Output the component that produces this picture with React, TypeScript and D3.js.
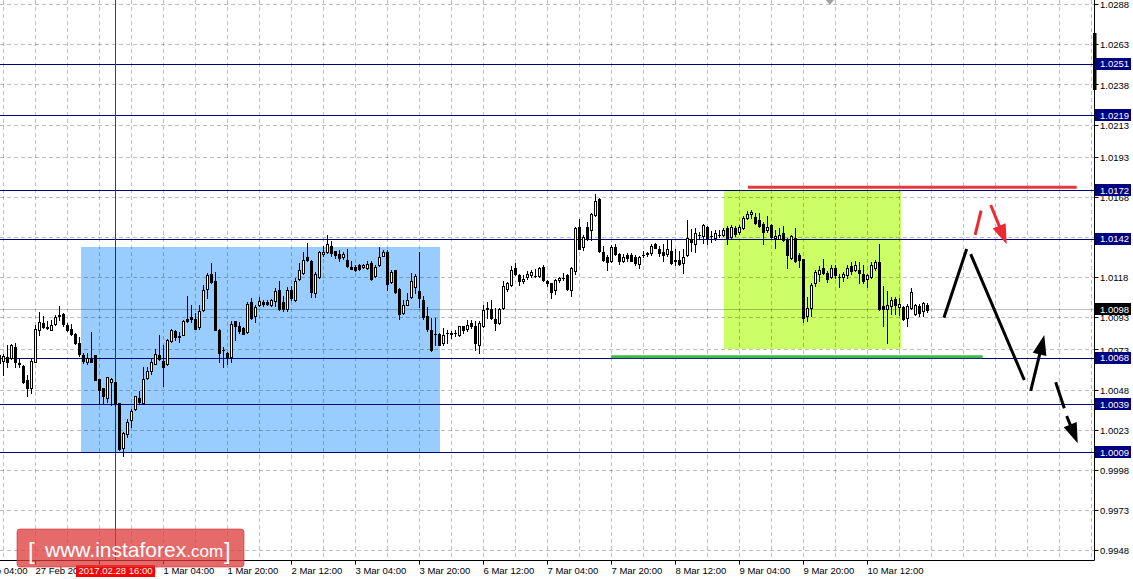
import * as d3 from 'd3'

// EURCHF H1, prices in pips above 1.0000 (bar 0 = 27 Feb 11:00)
const openPips = [
  64.5, 65.9, 68.6, 67.6, 74.3, 64.5, 63.0, 54.0, 49.3, 65.5,
  85.3, 89.5, 86.3, 85.3, 88.8, 94.0, 95.3, 88.0, 85.9, 82.6,
  77.0, 69.3, 64.9, 67.2, 69.3, 54.7, 49.3, 42.6, 53.0, 53.0,
  39.5, 11.8, 20.1, 29.0, 35.9, 43.0, 39.5, 55.5, 59.7, 63.8,
  69.3, 66.0, 63.8, 78.0, 84.3, 81.0, 82.2, 92.2, 93.0, 92.2,
  86.8, 97.8, 110.9, 120.0, 115.9, 85.3, 72.4, 70.7, 68.6, 90.5,
  87.4, 86.3, 83.8, 102.6, 93.6, 100.5, 102.6, 102.6, 100.5, 103.4,
  110.3, 102.4, 98.4, 110.3, 104.0, 117.0, 120.7, 130.5, 128.4, 108.2,
  118.2, 132.2, 133.8, 137.4, 134.3, 132.6, 130.5, 129.0, 124.3, 124.3,
  125.5, 124.3, 123.8, 127.0, 118.6, 125.3, 131.5, 133.8, 115.1, 122.2,
  110.9, 95.7, 101.0, 105.5, 112.0, 109.3, 104.0, 93.6, 85.3, 82.6,
  82.6, 76.9, 83.2, 82.8, 83.2, 82.2, 87.4, 85.7, 89.5, 87.4,
  76.0, 87.4, 98.9, 98.2, 92.0, 89.5, 98.9, 110.7, 113.4, 123.9,
  119.1, 115.5, 118.2, 119.1, 118.6, 118.6, 124.5, 115.5, 114.1, 109.9,
  116.1, 117.6, 119.1, 110.3, 121.8, 149.5, 137.0, 149.5, 147.4, 156.6,
  167.0, 133.6, 130.7, 128.0, 136.8, 132.6, 128.4, 131.8, 131.8, 130.5,
  126.3, 131.8, 132.6, 133.2, 138.8, 135.3, 133.8, 132.6, 134.3, 128.4,
  129.0, 127.0, 131.8, 141.5, 138.8, 144.3, 143.6, 149.2, 143.6, 142.2,
  144.3, 144.3, 148.8, 143.0, 148.4, 146.3, 148.4, 155.1, 157.2, 155.5,
  153.4, 151.3, 147.2, 150.5, 142.2, 142.0, 145.3, 141.1, 130.1, 142.6,
  131.6, 129.5, 93.6, 98.9, 114.1, 120.3, 123.9, 120.7, 118.2, 123.9,
  118.2, 118.2, 119.1, 124.9, 122.4, 122.4, 120.3, 117.0, 118.2, 123.9,
  127.4, 99.9, 98.2, 100.3, 104.5, 99.5, 99.5, 92.6, 98.9, 95.3,
  100.3, 96.8, 100.9,
]
const highPips = [
  71.8, 70.0, 75.9, 76.3, 77.0, 67.6, 63.4, 57.2, 67.6, 88.0,
  96.1, 93.6, 90.9, 91.5, 94.3, 100.3, 95.5, 89.5, 88.8, 83.2,
  80.5, 70.7, 70.7, 83.8, 69.6, 54.7, 49.3, 56.1, 55.1, 53.0,
  39.5, 21.8, 29.7, 35.9, 44.3, 47.0, 62.4, 61.8, 67.6, 73.4,
  82.2, 76.0, 79.7, 86.0, 85.3, 83.6, 91.5, 106.0, 100.5, 95.7,
  100.5, 113.4, 120.7, 127.0, 121.3, 86.0, 74.3, 71.3, 90.5, 90.5,
  90.1, 86.8, 102.6, 105.0, 100.5, 105.5, 104.0, 104.0, 104.2, 111.0,
  115.9, 106.1, 112.0, 112.4, 117.6, 127.0, 133.8, 139.5, 128.8, 121.3,
  134.3, 137.4, 144.3, 140.5, 134.5, 135.1, 133.5, 135.3, 128.4, 125.9,
  126.3, 126.0, 128.0, 128.4, 125.9, 136.8, 134.7, 134.7, 122.8, 122.4,
  111.0, 104.0, 108.2, 120.7, 120.0, 133.8, 106.1, 99.3, 92.6, 92.6,
  83.0, 86.3, 85.3, 84.3, 85.0, 87.8, 87.8, 91.6, 91.2, 90.5,
  90.5, 100.9, 102.4, 104.0, 98.9, 98.9, 115.5, 114.9, 124.9, 127.0,
  119.7, 119.1, 121.8, 122.8, 123.2, 124.5, 125.3, 116.1, 114.5, 116.6,
  118.2, 120.7, 120.3, 124.5, 149.5, 154.1, 144.1, 152.4, 158.2, 169.7,
  167.6, 137.4, 131.6, 137.8, 138.4, 133.2, 132.6, 133.2, 133.2, 131.8,
  131.1, 134.3, 133.9, 138.8, 139.5, 137.4, 138.4, 140.9, 140.9, 135.3,
  134.3, 135.3, 153.4, 147.8, 148.8, 146.3, 151.3, 149.9, 146.8, 147.2,
  147.2, 148.8, 149.9, 150.5, 149.9, 150.5, 156.1, 159.3, 159.7, 158.2,
  158.2, 152.6, 156.1, 151.3, 147.2, 148.9, 149.9, 142.6, 144.1, 148.9,
  132.8, 129.5, 105.7, 114.1, 122.8, 124.9, 129.5, 121.8, 125.3, 125.3,
  120.3, 121.1, 125.9, 127.4, 128.0, 127.4, 125.9, 120.3, 127.4, 128.6,
  138.4, 112.4, 109.3, 105.7, 105.7, 105.1, 100.3, 101.6, 111.4, 101.6,
  101.6, 102.4, 102.0,
]
const lowPips = [
  62.4, 57.2, 62.4, 67.2, 62.4, 62.4, 52.4, 44.0, 45.7, 65.0,
  82.2, 86.3, 85.7, 85.3, 88.4, 91.5, 87.4, 84.3, 82.2, 76.3,
  69.0, 64.5, 63.8, 65.5, 53.8, 38.8, 39.5, 40.5, 38.4, 38.0,
  10.3, 6.8, 18.6, 24.9, 35.3, 39.5, 39.0, 54.7, 57.6, 63.8,
  66.5, 50.5, 63.4, 77.6, 79.0, 77.6, 81.8, 90.1, 90.1, 85.5,
  85.9, 97.2, 105.0, 114.5, 84.9, 65.1, 62.4, 63.8, 65.5, 79.0,
  83.2, 82.4, 83.2, 92.2, 90.1, 100.0, 100.0, 100.5, 100.0, 100.0,
  97.8, 96.8, 97.0, 104.0, 103.0, 116.5, 120.0, 128.0, 105.5, 105.5,
  117.6, 131.1, 133.2, 131.1, 130.1, 128.4, 129.5, 124.3, 123.2, 121.8,
  122.8, 123.5, 123.4, 116.0, 118.0, 124.9, 131.1, 110.3, 114.5, 108.2,
  92.2, 95.1, 100.5, 105.0, 108.0, 99.3, 92.2, 84.3, 72.2, 75.5,
  75.5, 75.9, 77.0, 80.0, 81.5, 81.6, 83.2, 84.3, 86.3, 72.4,
  70.7, 87.2, 92.6, 92.0, 85.3, 89.1, 98.2, 109.3, 112.8, 119.1,
  113.4, 114.1, 116.6, 118.2, 118.2, 118.2, 115.5, 112.8, 105.1, 107.8,
  114.9, 116.1, 110.3, 106.6, 120.3, 135.3, 134.9, 141.1, 141.1, 156.2,
  133.6, 128.0, 122.4, 127.4, 131.8, 126.3, 127.6, 128.4, 128.0, 125.9,
  123.8, 130.5, 131.3, 131.8, 135.9, 131.1, 128.0, 131.1, 126.3, 125.9,
  125.5, 120.7, 131.1, 134.3, 133.8, 141.5, 139.5, 138.8, 140.1, 140.9,
  143.0, 143.6, 138.8, 142.2, 143.6, 144.7, 147.8, 154.0, 154.7, 151.3,
  149.2, 138.4, 146.3, 142.6, 136.3, 141.6, 140.5, 123.9, 129.1, 127.4,
  124.5, 89.9, 90.5, 93.6, 112.8, 115.5, 120.3, 114.9, 117.6, 117.6,
  112.0, 115.5, 117.6, 120.3, 121.8, 114.1, 114.5, 112.0, 117.6, 122.8,
  97.4, 87.4, 77.0, 95.3, 95.3, 94.7, 91.6, 87.8, 98.2, 94.7,
  94.1, 94.1, 96.1,
]
const closePips = [
  69.7, 69.0, 65.5, 75.5, 65.5, 64.0, 52.6, 49.3, 65.9, 85.9,
  90.1, 86.8, 87.0, 88.0, 93.0, 94.2, 89.0, 85.3, 82.6, 77.0,
  70.1, 65.9, 68.0, 65.5, 54.0, 47.8, 44.3, 55.9, 54.7, 39.5,
  10.9, 20.7, 28.0, 34.9, 44.0, 40.5, 54.7, 59.5, 65.5, 70.1,
  67.0, 62.4, 79.0, 85.3, 80.5, 81.2, 91.0, 90.5, 92.2, 85.7,
  97.2, 110.3, 119.3, 115.0, 85.3, 70.7, 72.6, 68.0, 88.8, 87.4,
  84.6, 82.6, 101.3, 92.6, 99.3, 103.4, 101.3, 101.3, 104.0, 109.3,
  98.4, 98.4, 110.3, 105.1, 115.9, 122.2, 129.0, 129.0, 108.8, 119.7,
  133.6, 133.6, 138.4, 133.2, 131.8, 130.1, 132.6, 124.9, 123.4, 122.2,
  123.4, 125.5, 126.3, 117.2, 124.3, 130.5, 133.8, 113.8, 121.3, 108.8,
  95.1, 100.5, 104.0, 115.9, 118.5, 105.1, 93.0, 85.9, 72.4, 82.8,
  75.9, 82.2, 83.0, 83.0, 83.4, 87.4, 84.9, 88.4, 87.4, 77.0,
  89.5, 97.4, 98.2, 92.6, 89.5, 98.2, 112.4, 114.1, 122.4, 120.3,
  115.5, 117.0, 120.3, 121.1, 118.8, 123.9, 116.1, 114.1, 108.7, 116.1,
  117.6, 117.8, 110.7, 123.9, 148.9, 135.7, 143.2, 142.0, 157.2, 165.5,
  134.3, 128.6, 127.4, 137.0, 132.6, 128.0, 130.5, 129.7, 128.4, 127.0,
  130.5, 132.0, 132.8, 137.4, 136.3, 133.2, 131.8, 135.3, 127.0, 128.6,
  126.3, 130.5, 142.2, 140.1, 145.7, 144.5, 150.5, 142.2, 143.8, 145.3,
  144.5, 147.2, 142.2, 149.2, 144.7, 149.2, 155.1, 157.6, 158.8, 152.0,
  149.9, 146.3, 149.2, 143.0, 143.6, 144.1, 141.1, 131.6, 143.6, 128.0,
  128.6, 92.6, 98.9, 113.4, 121.1, 122.4, 120.7, 117.0, 123.9, 119.1,
  118.4, 120.3, 123.9, 121.8, 125.3, 120.7, 115.5, 119.1, 125.3, 127.4,
  98.2, 98.2, 100.9, 103.6, 100.9, 101.5, 92.0, 100.3, 108.7, 100.9,
  95.7, 102.0, 97.4,
]

const levelPrices = [1.0251, 1.0219, 1.0172, 1.0142, 1.0068, 1.0039, 1.0009]
const lastPrice = 1.0098
const yTickValues = [
  1.0288, 1.0263, 1.0238, 1.0213, 1.0193, 1.0168, 1.0143, 1.0118,
  1.0093, 1.0073, 1.0048, 1.0023, 0.9998, 0.9973, 0.9948,
]
const xTickBars = [-7, 9, 25, 41, 57, 73, 89, 105, 121, 137, 153, 169, 185, 201, 217]
const xTickLabels = [
  '27 Feb 04:00', '27 Feb 20:00', '28 Feb 12:00', '1 Mar 04:00', '1 Mar 20:00',
  '2 Mar 12:00', '3 Mar 04:00', '3 Mar 20:00', '6 Mar 12:00', '7 Mar 04:00',
  '7 Mar 20:00', '8 Mar 12:00', '9 Mar 04:00', '9 Mar 20:00', '10 Mar 12:00',
]
const crosshairBar = 29
const crosshairLabel = '2017.02.28 16:00'

// drawn objects, in [bar, price]
const rangeBox = [[20.4, 1.01368], [110.1, 1.00086]]
const flagBox = [[181.1, 1.01723], [225.4, 1.00733]]
const resistanceLine = [[187.1, 1.0174], [269.3, 1.0174]]
const supportLine = [[152.9, 1.00685], [245.8, 1.00685]]
const blackStrokes = [
  [[236.1, 1.00928], [241.8, 1.01356]],
  [[242.8, 1.01324], [256.2, 1.0054]],
  [[264.05, 1.00526], [266.2, 1.00364]],
]
const blackArrows = [
  [[257.8, 1.00472], [261.2, 1.0082]],
  [[266.8, 1.00316], [269.55, 1.00146]],
]
const redStrokes = [[[245.4, 1.01594], [243.9, 1.01443]]]
const redArrows = [[[247.8, 1.0163], [251.8, 1.01385]]]

const toPrice = (p: number) => 1 + p / 10000
const FONT = "'Liberation Sans', Arial, sans-serif"

export default function App() {
  const W = 1133
  const H = 579
  const right = 1094.5
  const bottom = 560.5

  const x = d3.scaleLinear().domain([0, 274]).range([-0.5, 1095.5])
  const y = d3.scaleLinear().domain([1.0288, 0.9948]).range([4.2, 550.24])
  const py = (v: number) => Math.round(y(v)) + 0.5

  const seg = (s: number[][]) => ({ x1: x(s[0][0]), y1: y(s[0][1]), x2: x(s[1][0]), y2: y(s[1][1]) })

  const arrow = (s: number[][], color: string, key: string) => {
    const { x1, y1, x2, y2 } = seg(s)
    const dx = x2 - x1
    const dy = y2 - y1
    const len = Math.hypot(dx, dy)
    const ux = dx / len
    const uy = dy / len
    const hl = 20
    const hw = 7
    const bx = x2 - ux * hl
    const by = y2 - uy * hl
    const pts = [
      [x2, y2],
      [bx - uy * hw, by + ux * hw],
      [bx + uy * hw, by - ux * hw],
    ]
    return (
      <g key={key}>
        <line x1={x1} y1={y1} x2={bx + ux * 2} y2={by + uy * 2} stroke={color} strokeWidth={3} />
        <polygon points={pts.map(p => p.join(',')).join(' ')} fill={color} />
      </g>
    )
  }

  const vGrid = d3.range(1, 274, 8)
  const cx = x(crosshairBar)

  return (
    <svg
      width={W}
      height={H}
      style={{ position: 'absolute', left: 0, top: 0, display: 'block', background: '#fff' }}
      fontFamily={FONT}
    >
      <defs>
        <clipPath id="plot">
          <rect x={0} y={0} width={right} height={bottom} />
        </clipPath>
      </defs>
      <rect x={0} y={0} width={W} height={H} fill="#fff" />

      <g clipPath="url(#plot)">
        {/* rectangles */}
        <rect
          x={Math.round(x(rangeBox[0][0]))}
          y={Math.round(y(rangeBox[0][1]))}
          width={Math.round(x(rangeBox[1][0]) - x(rangeBox[0][0]))}
          height={Math.round(y(rangeBox[1][1]) - y(rangeBox[0][1]))}
          fill="#99ccff"
        />
        <rect
          x={Math.round(x(flagBox[0][0]))}
          y={Math.round(y(flagBox[0][1]))}
          width={Math.round(x(flagBox[1][0]) - x(flagBox[0][0]))}
          height={Math.round(y(flagBox[1][1]) - y(flagBox[0][1]))}
          fill="#ccff66"
        />

        {/* grid */}
        {yTickValues.map(v => (
          <line key={'hg' + v} x1={0} x2={right} y1={py(v)} y2={py(v)}
            stroke="#000" strokeOpacity={0.25} strokeDasharray="4 3" />
        ))}
        {vGrid.map(b => (
          <line key={'vg' + b} x1={x(b)} x2={x(b)} y1={0} y2={bottom}
            stroke="#000" strokeOpacity={0.25} strokeDasharray="4 3" />
        ))}

        {/* last price line */}
        <line x1={0} x2={right} y1={py(lastPrice)} y2={py(lastPrice)} stroke="#000" strokeOpacity={0.25} />

        {/* horizontal levels */}
        {levelPrices.map(v => (
          <line key={'lv' + v} x1={0} x2={right} y1={py(v)} y2={py(v)} stroke="#000080" />
        ))}

        {/* crosshair */}
        <line x1={cx} x2={cx} y1={0} y2={bottom} stroke="#dd0000" />
        <line x1={cx} x2={cx} y1={y(rangeBox[0][1])} y2={y(rangeBox[1][1])} stroke="#8a1010" />

        {/* candles */}
        {closePips.map((cp, i) => {
          const o = toPrice(openPips[i])
          const c = toPrice(cp)
          const yo = Math.round(y(o))
          const yc = Math.round(y(c))
          const yh = Math.round(y(toPrice(highPips[i])))
          const yl = Math.round(y(toPrice(lowPips[i])))
          const top = Math.min(yo, yc)
          const bot = Math.max(yo, yc)
          const bx = x(i)
          return (
            <g key={'c' + i}>
              <line x1={bx} x2={bx} y1={yh} y2={yl + 1} stroke="#000" />
              {bot - top < 1 ? (
                <line x1={bx - 1.5} x2={bx + 1.5} y1={top + 0.5} y2={top + 0.5} stroke="#000" />
              ) : (
                <rect x={bx - 1} y={top + 0.5} width={2} height={bot - top}
                  fill={c >= o ? '#fff' : '#000'} stroke="#000" />
              )}
            </g>
          )
        })}

        {/* resistance / support */}
        <line {...seg(resistanceLine)} stroke="#e8383e" strokeWidth={3} />
        <line {...seg(supportLine)} stroke="#3fb94e" strokeWidth={3} />

        {/* forecast */}
        {blackStrokes.map((s, i) => (
          <line key={'bs' + i} {...seg(s)} stroke="#000" strokeWidth={3} />
        ))}
        {blackArrows.map((s, i) => arrow(s, '#000', 'ba' + i))}
        {redStrokes.map((s, i) => (
          <line key={'rs' + i} {...seg(s)} stroke="#ec2a32" strokeWidth={3} />
        ))}
        {redArrows.map((s, i) => arrow(s, '#ec2a32', 'ra' + i))}

        {/* chart shift marker */}
        <polygon
          points={`${x(207.6) - 4},0 ${x(207.6) + 4},0 ${x(207.6)},5`}
          fill="#a0a0a0"
        />
      </g>

      {/* axes */}
      <line x1={right} x2={right} y1={0} y2={bottom} stroke="#000" />
      <line x1={0} x2={right} y1={bottom} y2={bottom} stroke="#000" />
      <rect x={1093} y={33} width={3.5} height={57} fill="#000" />

      {yTickValues.map(v => (
        <g key={'yt' + v}>
          <line x1={right} x2={right + 4} y1={py(v)} y2={py(v)} stroke="#000" />
          <text x={1100} y={y(v) + 1.5} fontSize={9.5} dominantBaseline="middle" fill="#000">
            {v.toFixed(4)}
          </text>
        </g>
      ))}

      {levelPrices.map(v => (
        <g key={'lb' + v}>
          <rect x={1095} y={Math.round(y(v)) - 6} width={36} height={12} fill="#000080" />
          <text x={1100} y={y(v) + 1} fontSize={9.5} dominantBaseline="middle" fill="#fff">
            {v.toFixed(4)}
          </text>
        </g>
      ))}
      <rect x={1095} y={Math.round(y(lastPrice)) - 6} width={36} height={12} fill="#000" />
      <text x={1100} y={y(lastPrice) + 1} fontSize={9.5} dominantBaseline="middle" fill="#fff">
        {lastPrice.toFixed(4)}
      </text>

      {xTickBars.map((b, i) => (
        <g key={'xt' + b}>
          <line x1={x(b)} x2={x(b)} y1={bottom} y2={bottom + 4} stroke="#000" />
          <text x={x(b)} y={574} fontSize={9.5} fill="#000">
            {xTickLabels[i]}
          </text>
        </g>
      ))}

      <rect x={cx - 39.5} y={565} width={79} height={12} fill="#ff0000" />
      <text x={cx} y={574} fontSize={9.5} fill="#fff" textAnchor="middle">
        {crosshairLabel}
      </text>

      {/* watermark */}
      <g>
        <rect x={17} y={529} width={227} height={38} rx={3} fill="#dc3a3a" fillOpacity={0.75}
          stroke="#c83232" strokeOpacity={0.6} />
        <text x={28} y={559} fontSize={24} fill="#fff" fontWeight={300}>[</text>
        <text x={45} y={557} fill="#fff">
          <tspan fontSize={21}>www.instaforex</tspan>
          <tspan fontSize={17}>.com</tspan>
        </text>
        <text x={224} y={559} fontSize={24} fill="#fff" fontWeight={300}>]</text>
      </g>
    </svg>
  )
}
